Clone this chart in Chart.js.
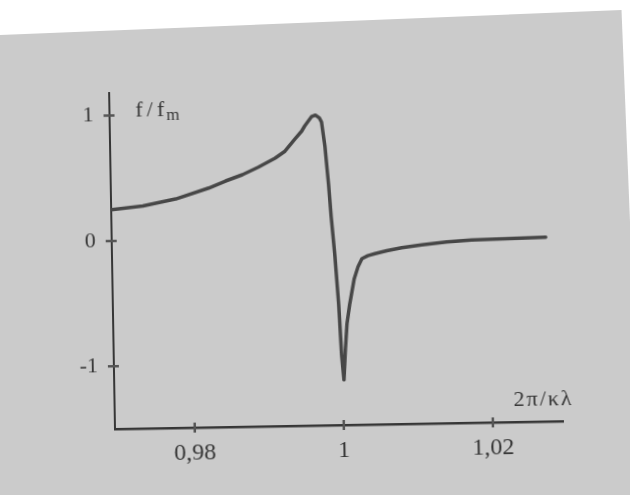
<!DOCTYPE html>
<html>
<head>
<meta charset="utf-8">
<script src="https://cdn.jsdelivr.net/npm/chart.js@4.4.1/dist/chart.umd.min.js"></script>
<style>
  html, body { margin: 0; padding: 0; background: #ffffff; overflow: hidden; }
  #page {
    position: absolute; left: -30px; top: 35px; width: 652px; height: 540px;
    background: #cbcbcb;
    transform-origin: 30px 0; transform: rotate(-2.3deg);
  }
  #wrap { position: absolute; left: 0; top: 0; width: 630px; height: 495px; }
  #phaseChart {
    position: absolute; left: 0; top: 0;
    transform-origin: 115px 429px; transform: rotate(-1deg);
  }
</style>
</head>
<body>
<div id="page"></div>
<div id="wrap"><canvas id="phaseChart" width="630" height="495"></canvas></div>
<script>
// curve: x = 2π/κλ, y = f/fm
const kValues = [0.96926, 0.97356, 0.97799, 0.98242, 0.98470, 0.98698, 0.98913, 0.99141, 0.99275, 0.99409,
                 0.99503, 0.99544, 0.99638, 0.99691, 0.99745, 0.99772, 0.99812, 0.99852, 0.99879, 0.99919,
                 0.99960, 0.99987, 1.00013, 1.00040, 1.00067, 1.00107, 1.00174, 1.00228, 1.00282, 1.00362,
                 1.00456, 1.00617, 1.00819, 1.01087, 1.01423, 1.01758, 1.02094, 1.02430, 1.02752];
const fValues = [0.248, 0.274, 0.326, 0.408, 0.462, 0.51, 0.568, 0.638, 0.692, 0.786,
                 0.849, 0.889, 0.963, 0.975, 0.951, 0.918, 0.725, 0.421, 0.165, -0.14,
                 -0.54, -0.94, -1.14, -0.89, -0.69, -0.54, -0.335, -0.24, -0.176, -0.153,
                 -0.138, -0.116, -0.094, -0.074, -0.054, -0.042, -0.038, -0.034, -0.03];

const xTickValues = [0.98, 1.0, 1.02];
const xTickLabels = ['0,98', '1', '1,02'];
const yTickValues = [-1, 0, 1];
const yTickLabels = ['-1', '0', '1'];

const inkColor = '#363636';
const serif = '"Liberation Serif", "DejaVu Serif", serif';

// small tick marks that cross the axis lines, like in the printed figure
const crossTicks = {
    id: 'crossTicks',
    afterDraw(chart) {
        const ctx = chart.ctx;
        const xs = chart.scales.x, ys = chart.scales.y;
        const area = chart.chartArea;
        ctx.save();
        ctx.strokeStyle = '#555';
        ctx.lineWidth = 2.5;
        ctx.beginPath();
        yTickValues.forEach(v => {
            const py = ys.getPixelForValue(v);
            ctx.moveTo(area.left - 6, py);
            ctx.lineTo(area.left + 5, py);
        });
        xTickValues.forEach(v => {
            const px = xs.getPixelForValue(v);
            ctx.moveTo(px, area.bottom - 5);
            ctx.lineTo(px, area.bottom + 5);
        });
        ctx.stroke();
        ctx.restore();
    }
};

const axisTitles = {
    id: 'axisTitles',
    afterDraw(chart) {
        const ctx = chart.ctx;
        const area = chart.chartArea;
        ctx.save();
        ctx.fillStyle = inkColor;
        ctx.textBaseline = 'alphabetic';
        // f/fm near the top of the y axis
        ctx.font = '22px ' + serif;
        ctx.textAlign = 'left';
        ctx.letterSpacing = '4px';
        const fx = area.left + 26;
        const fy = area.top + 24;
        ctx.fillText('f/f', fx, fy);
        const w = ctx.measureText('f/f').width;
        ctx.font = '17px ' + serif;
        ctx.letterSpacing = '0px';
        ctx.fillText('m', fx + w - 2, fy + 4);
        // 2π/κλ above the right end of the x axis
        ctx.font = '22px ' + serif;
        ctx.textAlign = 'right';
        ctx.letterSpacing = '2px';
        ctx.fillText('2π/κλ', area.right + 11, area.bottom - 16);
        ctx.restore();
    }
};

const ctxPhase = document.getElementById('phaseChart').getContext('2d');
const phaseChart = new Chart(ctxPhase, {
    type: 'scatter',
    data: {
        datasets: [{
            label: 'f/fm',
            data: kValues.map((k, i) => ({ x: k, y: fValues[i] })),
            showLine: true,
            borderColor: '#474747',
            borderWidth: 3.5,
            borderJoinStyle: 'round',
            borderCapStyle: 'round',
            pointRadius: 0,
            tension: 0
        }]
    },
    options: {
        responsive: false,
        animation: false,
        layout: {
            padding: { left: 0, top: 93, right: 67, bottom: 0 }
        },
        plugins: {
            legend: { display: false },
            tooltip: { enabled: false }
        },
        scales: {
            x: {
                type: 'linear',
                min: 0.9693,
                max: 1.0294,
                afterBuildTicks: axis => { axis.ticks = xTickValues.map(v => ({ value: v })); },
                afterFit: axis => { axis.height = 66; },
                grid: { display: false, drawOnChartArea: false, drawTicks: false },
                border: { display: true, color: inkColor, width: 2.5 },
                ticks: {
                    padding: 11,
                    color: inkColor,
                    font: { family: serif, size: 24 },
                    callback: v => xTickLabels[xTickValues.indexOf(v)] ?? ''
                }
            },
            y: {
                type: 'linear',
                min: -1.5,
                max: 1.18,
                afterBuildTicks: axis => { axis.ticks = yTickValues.map(v => ({ value: v })); },
                afterFit: axis => { axis.width = 115; },
                grid: { display: false, drawOnChartArea: false, drawTicks: false },
                border: { display: true, color: inkColor, width: 2 },
                ticks: {
                    padding: 16,
                    color: inkColor,
                    font: { family: serif, size: 22 },
                    callback: v => yTickLabels[yTickValues.indexOf(v)] ?? ''
                }
            }
        }
    },
    plugins: [crossTicks, axisTitles]
});
</script>
</body>
</html>
